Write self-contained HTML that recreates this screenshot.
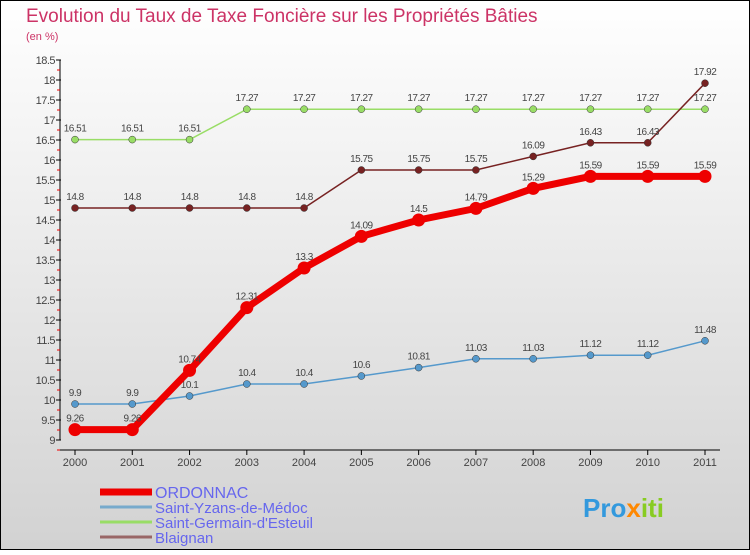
<!DOCTYPE html>
<html><head><meta charset="utf-8"><style>
html,body{margin:0;padding:0;}
body{width:750px;height:550px;overflow:hidden;font-family:"Liberation Sans",sans-serif;}
</style></head><body>
<svg id="chart" width="750" height="550" xmlns="http://www.w3.org/2000/svg">
<defs><linearGradient id="bg" x1="0" y1="0" x2="0" y2="1"><stop offset="0" stop-color="#ffffff"/><stop offset="1" stop-color="#d2d2d2"/></linearGradient></defs>
<rect x="0.5" y="0.5" width="749" height="549" fill="url(#bg)" stroke="#000"/>
<text x="26" y="22" font-size="19" fill="#cc3366">Evolution du Taux de Taxe Foncière sur les Propriétés Bâties</text>
<text x="26" y="40" font-size="11" fill="#cc3366">(en %)</text>
<g id="axes"></g>
<g id="series"></g>
<g id="legend"></g>
<text x="583" y="517" font-size="26" font-weight="bold" fill="#3399dd">Pro<tspan fill="#ff8800">x</tspan><tspan fill="#88cc22">iti</tspan></text>
</svg>
<script>
const years=[2000,2001,2002,2003,2004,2005,2006,2007,2008,2009,2010,2011];
const yTicks=[9,9.5,10,10.5,11,11.5,12,12.5,13,13.5,14,14.5,15,15.5,16,16.5,17,17.5,18,18.5];
const ordonnac=[9.26,9.26,10.74,12.31,13.3,14.09,14.5,14.79,15.29,15.59,15.59,15.59];
const yzans=[9.9,9.9,10.1,10.4,10.4,10.6,10.81,11.03,11.03,11.12,11.12,11.48];
const germain=[16.51,16.51,16.51,17.27,17.27,17.27,17.27,17.27,17.27,17.27,17.27,17.27];
const blaignan=[14.8,14.8,14.8,14.8,14.8,15.75,15.75,15.75,16.09,16.43,16.43,17.92];
const names=["ORDONNAC","Saint-Yzans-de-Médoc","Saint-Germain-d'Esteuil","Blaignan"];
const NS="http://www.w3.org/2000/svg";
const X=i=>75+i*(630/11);
const Y=v=>440-(v-9)*40;
function mk(t,a,p){const e=document.createElementNS(NS,t);for(const k in a)e.setAttribute(k,a[k]);p.appendChild(e);return e;}
const axes=document.getElementById('axes');
let l=mk('line',{x1:60,y1:60,x2:60,y2:440,stroke:'#000'},axes);


l=mk('line',{x1:60,y1:450,x2:720,y2:450,stroke:'#000'},axes);


yTicks.forEach(v=>{
 const t=mk('line',{x1:56,y1:Y(v),x2:61,y2:Y(v),stroke:'#000'},axes);
 
 
 const m=mk('line',{x1:57,y1:Y(v)+10,x2:60,y2:Y(v)+10,stroke:'#e00'},axes);
 
 
 const tx=mk('text',{x:55,y:Y(v)+4,'font-size':11,fill:'#444','text-anchor':'end','letter-spacing':'-0.5'},axes);
 tx.textContent=String(v);
 
 
});
years.forEach((yr,i)=>{
 const t=mk('line',{x1:X(i),y1:450,x2:X(i),y2:455,stroke:'#000'},axes);
 
 
 const tx=mk('text',{x:X(i),y:466,'font-size':11,fill:'#444','text-anchor':'middle'},axes);
 tx.textContent=yr;
 
 
});
const sg=document.getElementById('series');
function series(d,color,w,r,name,labelFill){
 const g=mk('g',{},sg);
 
 
 const pl=mk('polyline',{points:d.map((v,i)=>X(i)+','+Y(v)).join(' '),fill:'none',stroke:color,'stroke-width':w},g);
 
 
 d.forEach((v,i)=>{
  const c=mk('circle',{cx:X(i),cy:Y(v),r:r,fill:color,stroke:r>4?'none':'#333','stroke-width':0.5},g);
  
  
  const t=mk('text',{x:X(i),y:Y(v)-8,'font-size':10,fill:'#444','text-anchor':'middle','letter-spacing':'-0.5'},g);
  t.textContent=String(v);
  
  
 });
}
series(germain,'#99dd66',1.5,3.5,'saint-germain-series');
series(blaignan,'#772222',1.5,3.5,'blaignan-series');
series(yzans,'#5599cc',1.5,3.5,'saint-yzans-series');
series(ordonnac,'#ee0000',7,6.5,'ordonnac-series');
const lg=document.getElementById('legend');
const lc=['#ee0000','#77aacc','#99dd66','#996666'];const lw=[7,3,3,3];
names.forEach((n,i)=>{
 const y=492+i*15;
 const ln=mk('line',{x1:100,y1:y,x2:152,y2:y,stroke:lc[i],'stroke-width':lw[i]},lg);
 
 
 const t=mk('text',{x:155,y:y+6,'font-size':i==0?16:15,fill:'#6666ee'},lg);
 t.textContent=n;
 
 
});
</script>
</body></html>
